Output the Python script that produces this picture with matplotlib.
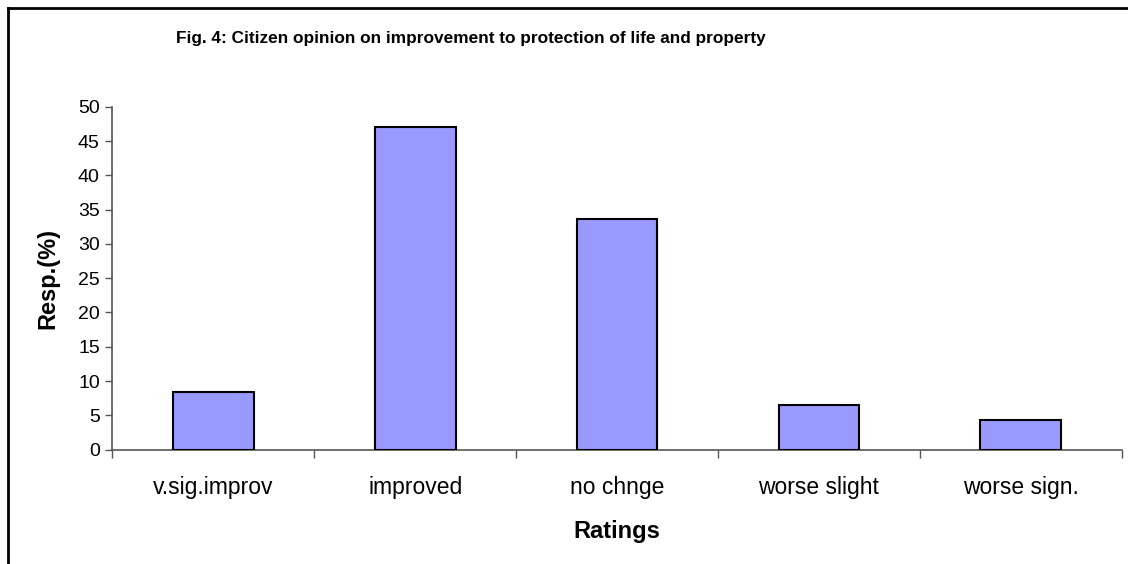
import matplotlib
matplotlib.use('Agg')
from matplotlib import pyplot
from matplotlib.lines import Line2D

# 評価カテゴリと回答率
RATINGS = ['v.sig.improv', 'improved', 'no chnge', 'worse slight', 'worse sign.']
RESP_PERCENT = [8.4, 47.0, 33.6, 6.5, 4.3]
Y_TICKS = list(range(0, 55, 5))

BAR_COLOR = '#9999FF'
AXIS_COLOR = '#555555'
FONT_NAME = 'Liberation Sans'

pyplot.rcParams['font.family'] = [FONT_NAME, 'DejaVu Sans']


def main():
    figure = pyplot.figure(figsize=(11.28, 5.64), dpi=100)
    axes = figure.add_axes([0.0996, 0.2027, 0.8948, 0.6081])

    positions = list(range(len(RATINGS)))
    axes.bar(positions, RESP_PERCENT, width=0.4, color=BAR_COLOR,
             edgecolor='black', linewidth=1.5, zorder=3)

    axes.set_xlim(-0.5, len(RATINGS) - 0.5)
    axes.set_ylim(0, 50)
    axes.set_yticks(Y_TICKS)
    axes.set_xticks(positions)
    axes.set_xticklabels(RATINGS)
    axes.set_xticks([p - 0.5 for p in positions] + [len(RATINGS) - 0.5], minor=True)
    axes.tick_params(axis='x', which='major', length=0, pad=19, labelsize=16.5)
    axes.tick_params(axis='x', which='minor', length=6, width=1, color=AXIS_COLOR)
    axes.tick_params(axis='y', length=5, width=1, color=AXIS_COLOR, labelsize=14, pad=4)

    for side in ['top', 'right']:
        axes.spines[side].set_visible(False)
    for side in ['left', 'bottom']:
        axes.spines[side].set_color(AXIS_COLOR)
        axes.spines[side].set_linewidth(1.2)

    axes.set_xlabel('Ratings', fontsize=17, fontweight='bold')
    axes.set_ylabel('Resp.(%)', fontsize=17, fontweight='bold')
    axes.xaxis.set_label_coords(0.5, -0.239)
    axes.xaxis.label.set_va('center')
    axes.yaxis.set_label_coords(-0.0634, 0.5)
    axes.yaxis.label.set_va('center')

    figure.text(0.417, 0.932, 'Fig. 4: Citizen opinion on improvement to protection of life and property',
                ha='center', va='center', fontsize=12.4, fontweight='bold')

    # グラフ全体の枠（左と上のみ見えている）
    figure.add_artist(Line2D([8 / 1128, 8 / 1128], [0, 1 - 8 / 564], color='black', lw=2,
                             transform=figure.transFigure))
    figure.add_artist(Line2D([8 / 1128, 1], [1 - 8 / 564, 1 - 8 / 564], color='black', lw=2,
                             transform=figure.transFigure))

    pyplot.savefig('out.png', dpi=100)


main()
